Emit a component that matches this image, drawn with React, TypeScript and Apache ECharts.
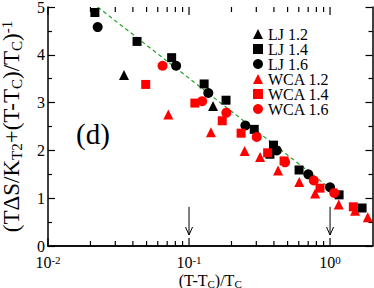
import React, { useEffect, useRef } from 'react';
import * as echarts from 'echarts';

const lj12X = [0.0346, 0.148];
const lj12Y = [3.58, 2.93];
const lj14X = [0.0215, 0.0428, 0.0753, 0.128, 0.183, 0.29, 0.397, 0.375, 0.603, 1.159, 1.687];
const lj14Y = [4.885, 4.28, 3.94, 3.39, 3.05, 2.44, 2.11, 1.92, 1.59, 1.07, 0.795];
const lj16X = [0.0225, 0.081, 0.137, 0.251, 0.419, 0.701, 1.0];
const lj16Y = [4.58, 3.77, 3.2, 2.52, 2.0, 1.5, 1.23];
const wca12X = [0.0713, 0.143, 0.248, 0.319, 0.428, 0.605, 0.784, 1.153, 1.504, 1.85];
const wca12Y = [2.75, 2.38, 1.99, 1.86, 1.58, 1.34, 1.1, 0.87, 0.74, 0.6];
const wca14X = [0.0493, 0.11, 0.172, 0.234, 0.361, 0.472, 0.849, 1.463];
const wca14Y = [3.38, 2.99, 2.62, 2.36, 1.95, 1.78, 1.21, 0.82];
const wca16X = [0.0649, 0.124, 0.184, 0.302, 0.48, 0.767, 1.071];
const wca16Y = [3.77, 3.03, 2.79, 2.28, 1.75, 1.37, 1.11];
const fitX = [0.0225, 0.95];
const fitY = [5.0, 1.26];
const arrowX = [0.1, 1.0];
const arrowTopY = 0.82;
const arrowBottomY = 0.23;
const xMajorTicks = [0.01, 0.1, 1];
const xMinorTicks = [0.02, 0.03, 0.04, 0.05, 0.06, 0.07, 0.08, 0.09, 0.2, 0.3, 0.4, 0.5, 0.6, 0.7, 0.8, 0.9];
const legendNames = ['LJ 1.2', 'LJ 1.4', 'LJ 1.6', 'WCA 1.2', 'WCA 1.4', 'WCA 1.6'];

const FONT = '"Liberation Serif", "DejaVu Serif", serif';

const zip = (xs: number[], ys: number[]) => xs.map((x, i) => [x, ys[i]]);

export default function App() {
  const ref = useRef<HTMLDivElement>(null);
  useEffect(() => {
    if (!ref.current) return;
    const chart = echarts.init(ref.current, undefined, { renderer: 'svg' });

    const tickSeries = (vals: number[], len: number) => ({
      type: 'custom',
      xAxisIndex: 0,
      yAxisIndex: 0,
      silent: true,
      clip: false,
      z: 5,
      data: vals.map((v) => [v, 0]),
      renderItem: (_p: any, api: any) => {
        const v = api.value(0);
        const b = api.coord([v, 0]);
        const t = api.coord([v, 5]);
        const st = { stroke: '#000', lineWidth: 1.2 };
        return {
          type: 'group',
          children: [
            { type: 'line', shape: { x1: b[0], y1: b[1], x2: b[0], y2: b[1] - len }, style: st },
            { type: 'line', shape: { x1: t[0], y1: t[1], x2: t[0], y2: t[1] + len }, style: st },
          ],
        };
      },
    });

    const scatter = (name: string, xs: number[], ys: number[], symbol: string, size: number, color: string) => ({
      name,
      type: 'scatter',
      symbol,
      symbolSize: size,
      itemStyle: { color, opacity: 1 },
      data: zip(xs, ys),
      z: 3,
    });

    const axisLineStyle = { show: true, lineStyle: { color: '#000', width: 1.5 } };

    chart.setOption({
      animation: false,
      grid: { left: 48, right: 1.5, top: 7, bottom: 42, containLabel: false, outerBoundsMode: 'none' },
      legend: {
        orient: 'vertical',
        left: 253,
        top: 26,
        padding: 0,
        itemWidth: 10,
        itemHeight: 10,
        itemGap: -1,
        textStyle: { fontFamily: FONT, fontSize: 16, color: '#000' },
        data: legendNames,
      },
      xAxis: [
        {
          type: 'log',
          logBase: 10,
          min: 0.01,
          max: 2,
          position: 'bottom',
          axisLine: axisLineStyle,
          axisTick: { show: false },
          splitLine: { show: false },
          axisLabel: {
            fontFamily: FONT,
            fontSize: 16,
            color: '#000',
            margin: 8,
            formatter: (v: number) => {
              const l = Math.log10(v);
              const e = Math.round(l);
              if (Math.abs(l - e) > 1e-6) return '';
              return `10{sup|${e}}`;
            },
            rich: { sup: { fontFamily: FONT, fontSize: 11, color: '#000', padding: [0, 0, 6, 0] } },
          },
          name: '(T-T{sub|C})/T{sub|C}',
          nameLocation: 'middle',
          nameGap: 25,
          nameMoveOverlap: false,
          nameTextStyle: {
            fontFamily: FONT,
            fontSize: 16,
            color: '#000',
            rich: { sub: { fontFamily: FONT, fontSize: 11, color: '#000', padding: [7, 0, 0, 0] } },
          },
        },
        {
          type: 'log',
          logBase: 10,
          min: 0.01,
          max: 2,
          position: 'top',
          axisLine: axisLineStyle,
          axisTick: { show: false },
          splitLine: { show: false },
          axisLabel: { show: false },
        },
      ],
      yAxis: [
        {
          type: 'value',
          min: 0,
          max: 5,
          interval: 1,
          position: 'left',
          axisLine: axisLineStyle,
          axisTick: { show: true, inside: true, length: 7, lineStyle: { color: '#000', width: 1.2 } },
          minorTick: { show: true, splitNumber: 2, length: 4, lineStyle: { color: '#000', width: 1.2 } },
          splitLine: { show: false },
          axisLabel: { fontFamily: FONT, fontSize: 16, color: '#000', margin: 3 },
          name: '(TΔS/K{sub|T2}+(T-T{sub|C})/T{sub|C}){sup|-1}',
          nameLocation: 'middle',
          nameRotate: 90,
          nameGap: 24,
          nameMoveOverlap: false,
          nameTextStyle: {
            fontFamily: FONT,
            fontSize: 23,
            color: '#000',
            rich: {
              sub: { fontFamily: FONT, fontSize: 15, color: '#000', padding: [10, 0, 0, 0] },
              sup: { fontFamily: FONT, fontSize: 15, color: '#000', padding: [0, 0, 10, 0] },
            },
          },
        },
        {
          type: 'value',
          min: 0,
          max: 5,
          interval: 1,
          position: 'right',
          axisLine: axisLineStyle,
          axisTick: { show: true, inside: true, length: 7, lineStyle: { color: '#000', width: 1.2 } },
          minorTick: { show: true, splitNumber: 2, length: 4, lineStyle: { color: '#000', width: 1.2 } },
          splitLine: { show: false },
          axisLabel: { show: false },
        },
      ],
      graphic: [
        {
          type: 'text',
          x: 93,
          y: 134,
          style: {
            text: '(d)',
            fontFamily: FONT,
            fontSize: 29,
            fill: '#000',
            align: 'center',
            verticalAlign: 'middle',
          },
        },
      ],
      series: [
        {
          type: 'line',
          data: zip(fitX, fitY),
          symbol: 'none',
          silent: true,
          lineStyle: { color: '#22a022', width: 1.2, type: [4, 3] },
          z: 2,
        },
        scatter('LJ 1.2', lj12X, lj12Y, 'triangle', 10, '#000'),
        scatter('LJ 1.4', lj14X, lj14Y, 'rect', 9, '#000'),
        scatter('LJ 1.6', lj16X, lj16Y, 'circle', 10, '#000'),
        scatter('WCA 1.2', wca12X, wca12Y, 'triangle', 10, '#ff0000'),
        scatter('WCA 1.4', wca14X, wca14Y, 'rect', 9, '#ff0000'),
        scatter('WCA 1.6', wca16X, wca16Y, 'circle', 10, '#ff0000'),
        tickSeries(xMajorTicks, 8),
        tickSeries(xMinorTicks, 5),
        {
          type: 'custom',
          silent: true,
          clip: false,
          z: 4,
          data: arrowX.map((x) => [x, arrowTopY, arrowBottomY]),
          renderItem: (_p: any, api: any) => {
            const x = api.value(0);
            const p1 = api.coord([x, api.value(1)]);
            const p2 = api.coord([x, api.value(2)]);
            const st = { stroke: '#000', lineWidth: 1, fill: 'none' };
            return {
              type: 'group',
              children: [
                { type: 'line', shape: { x1: p1[0], y1: p1[1], x2: p2[0], y2: p2[1] }, style: st },
                {
                  type: 'polyline',
                  shape: { points: [[p2[0] - 3.5, p2[1] - 8], [p2[0], p2[1]], [p2[0] + 3.5, p2[1] - 8]] },
                  style: st,
                },
              ],
            };
          },
        },
      ],
    });
    return () => chart.dispose();
  }, []);
  return <div ref={ref} style={{ width: 374, height: 288, position: 'absolute', left: 0, top: 0 }} />;
}
